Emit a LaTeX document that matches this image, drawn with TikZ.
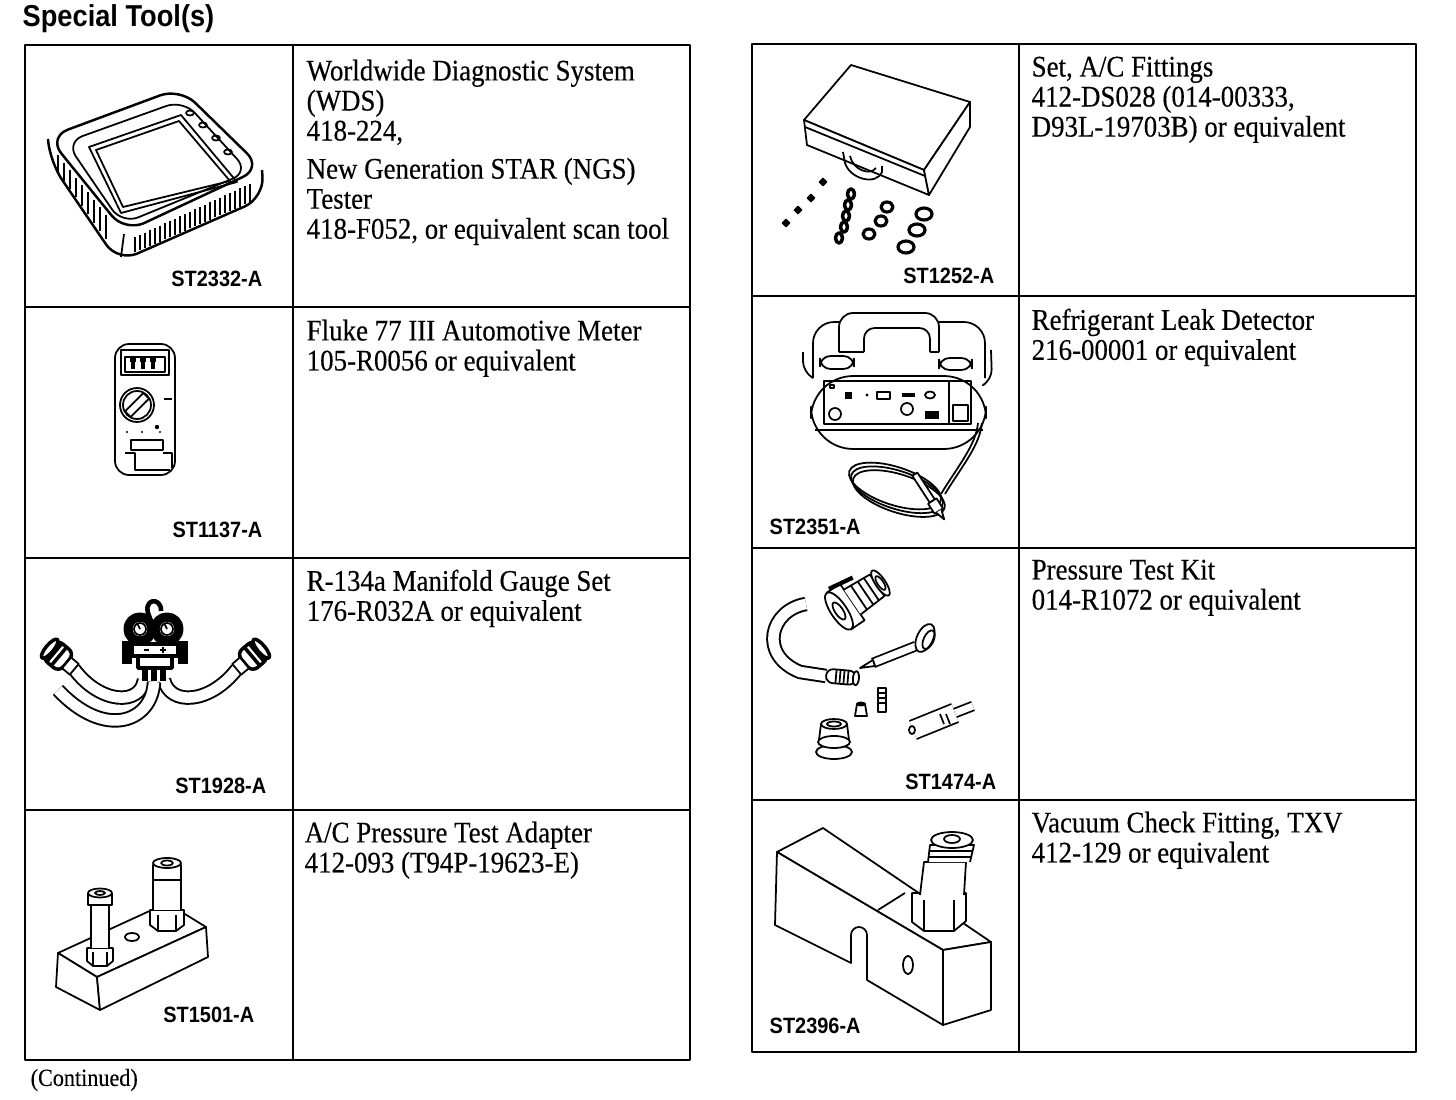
\documentclass[tikz,border=0pt]{standalone}
\usepackage{fontspec}
\setmainfont{Liberation Serif}[FakeStretch=0.9,FakeBold=0.3]
\newfontfamily\tagfont{Liberation Sans}[FakeStretch=0.9]
\usetikzlibrary{shapes,arrows.meta,positioning}
\begin{document}
\begin{tikzpicture}[x=0.01cm,y=-0.01cm,line join=round,
  rule/.style={line width=0.8pt},
  ink/.style={line width=0.5pt},
  hose/.style={line width=0.55pt,double=white,double distance=3pt},
  info/.style={anchor=north west,inner sep=0pt,align=left,font=\fontsize{8.5}{8.54}\selectfont},
  tag/.style={inner sep=0pt,font=\tagfont\bfseries\fontsize{6.3}{7}\selectfont}]
\useasboundingbox (0,0) rectangle (1456,1100);

\node [anchor=west,inner sep=0pt,font=\tagfont\bfseries\fontsize{8.6}{10}\selectfont] (title) at (22,19) {Special Tool(s)};
\node [anchor=west,inner sep=0pt,font=\fontsize{7}{8}\selectfont] (more) at (30,1080) {(Continued)};

\draw [rule] (25,45) rectangle (690,1060);
\draw [rule] (293,45) -- (293,1060);
\foreach \y in {307,558,810} \draw [rule] (25,\y) -- (690,\y);
\draw [rule] (752,44) rectangle (1416,1052);
\draw [rule] (1019,44) -- (1019,1052);
\foreach \y in {296,548,800} \draw [rule] (752,\y) -- (1416,\y);

\node [info] (wds) at (306,59) {Worldwide Diagnostic System\\(WDS)\\418-224,\\[2.3pt]New Generation STAR (NGS)\\Tester\\418-F052, or equivalent scan tool};
\node [info] (fluke) at (306,319) {Fluke 77 III Automotive Meter\\105-R0056 or equivalent};
\node [info] (gauge) at (306,569) {R-134a Manifold Gauge Set\\176-R032A or equivalent};
\node [info] (adapter) at (304,821) {A/C Pressure Test Adapter\\412-093 (T94P-19623-E)};
\node [info] (fittings) at (1031,56) {Set, A/C Fittings\\412-DS028 (014-00333,\\D93L-19703B) or equivalent};
\node [info] (leak) at (1031,308) {Refrigerant Leak Detector\\216-00001 or equivalent};
\node [info] (kit) at (1031,559) {Pressure Test Kit\\014-R1072 or equivalent};
\node [info] (txv) at (1031,811) {Vacuum Check Fitting, TXV\\412-129 or equivalent};

\node [tag,anchor=east] (wdstag) at (263,279) {ST2332-A};
\node [tag,anchor=east] (fluketag) at (263,530) {ST1137-A};
\node [tag,anchor=east] (gaugetag) at (267,786) {ST1928-A};
\node [tag,anchor=east] (adaptertag) at (255,1015) {ST1501-A};
\node [tag,anchor=east] (fittingstag) at (995,276) {ST1252-A};
\node [tag,anchor=west] (leaktag) at (769,527) {ST2351-A};
\node [tag,anchor=east] (kittag) at (997,782) {ST1474-A};
\node [tag,anchor=west] (txvtag) at (769,1026) {ST2396-A};

\draw [ink,line width=0.7pt,rounded corners=6] (48,137) -- (180,88) -- (262,168) -- (125,232) -- cycle;
\draw [ink,line width=0.7pt,rounded corners=6] (48,139) -- (50,162) -- (118,262) -- (264,198) -- (262,170);
\draw [ink,rounded corners=5] (66,142) -- (183,100) -- (249,172) -- (122,224) -- cycle;
\draw [ink] (89,147) -- (181,115) -- (237,182) -- (121,213) -- cycle;
\draw [ink] (96,150) -- (179,121) -- (230,181) -- (123,207) -- cycle;
\draw [ink] (124,234) -- (121,257);
\foreach \p in {(190,113),(203,125),(216,138),(228,152)} \draw [ink] \p ellipse [x radius=4,y radius=2.5];
\foreach \x in {135,140,...,250} \draw [ink] (\x,{232-(\x-125)*0.467+10}) -- (\x,{262-(\x-120)*0.437-3});
\foreach \x in {58,64,...,106} \draw [ink] (\x,{137+(\x-48)*1.234+6}) -- (\x,{164+(\x-50)*1.4-3});

\draw [ink,rounded corners=4] (115,344) rectangle (175,475);
\draw [ink] (121,350) rectangle (169,375);
\draw [ink] (125,357) rectangle (165,372);
\foreach \x in {130,140,150} \draw [line width=1pt] (\x,360) -- (\x+6,360) (\x+3,362) -- (\x+3,369);
\draw [ink] (137,405) circle [radius=17];
\draw [ink] (137,405) circle [radius=14];
\draw [ink,rotate around={45:(137,405)}] (124,401) rectangle (150,409);
\fill (157,427) circle [radius=2.2];
\fill (164,398) rectangle (172,400);
\foreach \x in {127,142,160} \fill (\x,432) circle [radius=1.1];
\draw [ink] (131,440) rectangle (163,450);
\draw [ink] (125,453) -- (135,453) -- (135,470) -- (170,470);
\draw [ink] (163,453) -- (172,453) -- (172,468);

\draw [hose] (144,680) .. controls (140,706) and (100,704) .. (74,669);
\draw [hose] (164,680) .. controls (170,706) and (210,704) .. (237,669);
\draw [hose] (154,682) .. controls (152,722) and (105,740) .. (58,690);
\begin{scope}[shift={(62,659)},rotate=-40]
\draw [line width=1pt,fill=white,rounded corners=2] (-16,-12) rectangle (6,12);
\draw [line width=1pt,fill=white] (-16,0) ellipse [x radius=4,y radius=12];
\draw [line width=1pt] (-10,-12) -- (-10,12) (-4,-12) -- (-4,12);
\draw [ink,fill=white] (6,-7) rectangle (16,7);
\end{scope}
\begin{scope}[shift={(249,659)},rotate=40,xscale=-1]
\draw [line width=1pt,fill=white,rounded corners=2] (-16,-12) rectangle (6,12);
\draw [line width=1pt,fill=white] (-16,0) ellipse [x radius=4,y radius=12];
\draw [line width=1pt] (-10,-12) -- (-10,12) (-4,-12) -- (-4,12);
\draw [ink,fill=white] (6,-7) rectangle (16,7);
\end{scope}
\draw [line width=1.3pt] (150,618) .. controls (140,598) and (162,596) .. (161,611);
\fill (122,641) rectangle (132,664);
\fill (178,641) rectangle (188,664);
\draw [line width=1pt,fill=white] (132,644) rectangle (178,656);
\draw [line width=1pt,fill=white] (138,656) rectangle (172,668);
\draw [ink] (144,650) -- (149,650) (160,650) -- (166,650) (163,647) -- (163,653);
\foreach \x in {142,151,160} \fill (\x,668) rectangle (\x+6,681);
\foreach \x in {140,167} {
  \draw [line width=2.6pt,fill=white] (\x,629) circle [radius=12];
  \draw [ink] (\x,629) circle [radius=6];
  \draw [ink] (\x,629) -- (\x-3,623);
}

\draw [ink,fill=white] (58,953) -- (167,903) -- (206,927) -- (97,977) -- cycle;
\draw [ink,fill=white] (58,953) -- (56,987) -- (100,1010) -- (97,977) -- cycle;
\draw [ink,fill=white] (97,977) -- (100,1010) -- (208,957) -- (206,927) -- cycle;
\draw [ink] (132,937) ellipse [x radius=7,y radius=4];
\draw [ink,fill=white] (150,910) -- (150,925) -- (158,931) -- (176,931) -- (184,925) -- (184,910) -- cycle;
\draw [ink] (158,915) -- (158,931) (176,915) -- (176,931);
\draw [ink,fill=white] (153,910) -- (153,865) -- (181,865) -- (181,910);
\draw [ink] (153,880) -- (181,880);
\draw [ink,fill=white] (167,863) ellipse [x radius=14,y radius=5];
\draw [ink] (167,863) ellipse [x radius=6,y radius=2.5];
\draw [ink,fill=white] (87,948) -- (87,961) -- (93,966) -- (107,966) -- (113,961) -- (113,948) -- cycle;
\draw [ink] (93,952) -- (93,966) (107,952) -- (107,966);
\draw [ink,fill=white] (91,948) -- (91,905) -- (109,905) -- (109,948);
\draw [ink,fill=white] (88,905) -- (88,894) -- (112,894) -- (112,905) -- cycle;
\draw [ink,fill=white] (100,893) ellipse [x radius=12,y radius=4.5];
\draw [ink] (100,893) ellipse [x radius=5,y radius=2];

\draw [ink,fill=white] (804,120) -- (851,65) -- (970,102) -- (924,170) -- cycle;
\draw [ink,fill=white] (804,120) -- (807,145) -- (929,195) -- (924,170) -- cycle;
\draw [ink,fill=white] (924,170) -- (970,102) -- (970,127) -- (929,195) -- cycle;
\draw [ink] (805,127) -- (925,176);
\draw [ink] (843,152) -- (845,163) .. controls (850,179) and (876,186) .. (882,172) -- (882,166);
\draw [ink] (850,156) .. controls (853,170) and (870,176) .. (876,168);
\foreach \p in {(786,223),(798,210),(811,198),(823,182)} \draw [ink,fill=black] \p +(-3.5,0) -- +(0,-3.5) -- +(3.5,0) -- +(0,3.5) -- cycle;
\foreach \p in {(851,194),(848,205),(846,216),(844,227),(839,238)} \draw [line width=1pt] \p ellipse [x radius=3.5,y radius=5];
\foreach \p in {(887,207),(881,221),(869,234)} \draw [line width=0.9pt] \p ellipse [x radius=6,y radius=5];
\foreach \p in {(924,214),(917,230),(906,247)} \draw [line width=0.9pt] \p ellipse [x radius=8,y radius=6];

\draw [ink,rounded corners=6] (813,378) -- (813,322) -- (839,322);
\draw [ink,rounded corners=6] (939,322) -- (985,322) -- (985,378);
\draw [ink,rounded corners=4] (839,352) -- (839,313) -- (939,313) -- (939,352);
\draw [ink,rounded corners=3] (864,352) -- (864,328) -- (930,328) -- (930,352);
\draw [ink] (839,352) -- (864,352) (930,352) -- (939,352);
\draw [ink,rounded corners=3] (803,352) -- (803,372) -- (813,378);
\draw [ink,rounded corners=3] (991,350) -- (992,380) -- (985,384);
\draw [ink,rounded corners=3] (820,356) rectangle (854,369);
\draw [ink,rounded corners=3] (939,358) rectangle (972,370);
\draw [ink,rounded corners=12] (811,376) -- (811,449) -- (986,449) -- (986,376) -- cycle;
\draw [ink] (815,430) -- (983,430);
\draw [ink] (824,381) rectangle (949,424);
\draw [ink] (949,381) rectangle (971,424);
\draw [ink] (953,405) rectangle (968,421);
\draw [ink] (830,385) rectangle (834,388);
\fill (845,392) rectangle (852,399);
\fill (867,395) circle [radius=1.6];
\draw [ink] (877,392) rectangle (890,399);
\draw [line width=1pt] (902,395) -- (915,395);
\draw [ink] (930,395) ellipse [x radius=5,y radius=3.5];
\draw [ink] (907,409) circle [radius=6];
\fill (925,411) rectangle (939,419);
\draw [ink] (835,414) circle [radius=6];
\foreach \d in {0,3,6} \draw [ink,rotate around={-18:(895,486)}] (895+\d,486+\d) ellipse [x radius=48,y radius=19];
\draw [ink] (982,423) .. controls (980,445) and (962,466) .. (945,494);
\draw [ink] (978,423) .. controls (976,445) and (958,466) .. (941,494);
\begin{scope}[shift={(929,496)},rotate=-57]
\draw [ink,fill=white] (-26,-3) rectangle (6,3);
\draw [ink,fill=white] (6,-5) rectangle (18,5);
\draw [ink,fill=white] (18,-3) -- (28,0) -- (18,3);
\end{scope}

\draw [hose] (806,604) .. controls (770,610) and (758,655) .. (800,672) -- (826,676);
\begin{scope}[shift={(842,677)},rotate=-5]
\draw [ink,fill=white,rounded corners=2] (-16,-7) rectangle (14,7);
\foreach \x in {-6,-2,2,6} \draw [ink] (\x,-7) -- (\x,7);
\draw [ink,fill=white] (14,0) ellipse [x radius=3,y radius=7];
\end{scope}
\begin{scope}[shift={(839,611)},rotate=34]
\draw [ink,fill=white] (0,-22) -- (16,-22) -- (16,22) -- (0,22);
\draw [ink,fill=white] (16,-15) -- (46,-13) -- (46,13) -- (16,15);
\draw [ink] (24,-14) -- (24,14) (32,-14) -- (32,14) (39,-13) -- (39,13);
\draw [ink,fill=white] (50,0) ellipse [x radius=5,y radius=15];
\draw [ink] (50,0) ellipse [x radius=3,y radius=8];
\draw [ink,fill=white] (0,0) ellipse [x radius=8,y radius=22];
\draw [ink] (0,0) ellipse [x radius=4,y radius=10];
\draw [line width=1.2pt] (4,-24) -- (30,-20);
\end{scope}
\draw [ink,double,double distance=2pt] (916,646) -- (873,663);
\draw [ink,fill=white] (873,660) -- (860,668) -- (875,666) -- cycle;
\draw [ink,fill=white,rotate around={-25:(925,638)}] (925,638) ellipse [x radius=8,y radius=15];
\draw [ink,rotate around={-25:(925,638)}] (929,638) ellipse [x radius=5,y radius=10];
\draw [ink,fill=white] (878,688) rectangle (886,712);
\foreach \y in {693,698,703} \draw [ink] (878,\y) -- (886,\y);
\draw [ink,fill=white] (855,716) -- (857,704) -- (865,704) -- (867,716) -- cycle;
\draw [ink] (861,704) ellipse [x radius=4,y radius=1.5];
\draw [ink,fill=white] (819,740) -- (821,724) -- (847,724) -- (849,740);
\draw [ink,fill=white] (834,752) ellipse [x radius=18,y radius=7];
\draw [ink,fill=white] (834,742) ellipse [x radius=16,y radius=6];
\draw [ink,fill=white] (834,724) ellipse [x radius=13,y radius=5];
\draw [ink] (834,724) ellipse [x radius=7,y radius=2.5];
\draw [ink,double,double distance=5pt] (913,730) -- (955,713);
\draw [ink,double,double distance=2pt] (955,713) -- (973,706);
\draw [ink,fill=white] (912,730) ellipse [x radius=3,y radius=4];
\foreach \x in {940,946} \draw [ink] (\x,714) -- (\x+4,724);

\draw [ink,fill=white] (777,852) -- (823,828) -- (991,942) -- (943,950) -- cycle;
\draw [ink,fill=white] (777,852) -- (775,925) -- (851,963) -- (851,935) arc [start angle=180,end angle=360,radius=8] -- (867,980) -- (943,1025) -- (943,950) -- cycle;
\draw [ink,fill=white] (943,950) -- (991,942) -- (991,1010) -- (943,1025) -- cycle;
\draw [ink] (908,965) ellipse [x radius=5,y radius=9];
\draw [ink] (878,910) -- (905,893);
\draw [ink,fill=white] (912,893) -- (912,922) -- (924,931) -- (954,931) -- (966,921) -- (966,893) -- cycle;
\draw [ink] (924,900) -- (924,931) (954,900) -- (954,931);
\draw [ink,fill=white] (920,895) -- (924,862) -- (966,862) -- (964,895);
\draw [ink,fill=white] (928,862) -- (930,845) -- (974,845) -- (970,862);
\draw [ink] (929,851) -- (973,851) (929,857) -- (972,857);
\draw [ink,fill=white] (952,840) ellipse [x radius=21,y radius=8];
\draw [ink] (952,839) ellipse [x radius=8,y radius=4];
\end{tikzpicture}
\end{document}
